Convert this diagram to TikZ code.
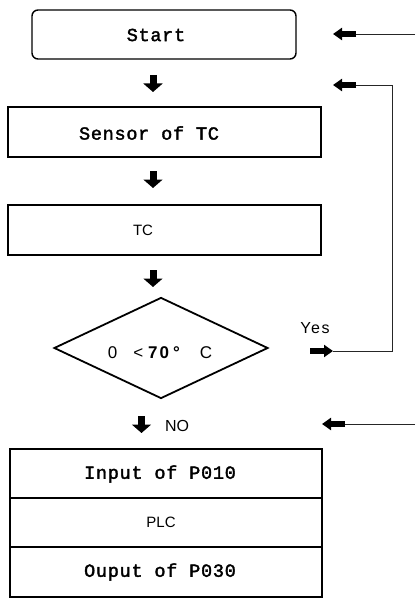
\documentclass[tikz,border=0pt]{standalone}
\usepackage{fontspec}
\setmainfont{Liberation Sans}
\newfontfamily\monofont[LetterSpace=4,FakeBold=2]{Liberation Mono}
\newfontfamily\widesans[LetterSpace=10]{Liberation Sans}
\usetikzlibrary{arrows.meta,shapes.geometric}
\begin{document}
\begin{tikzpicture}[x=1pt,y=-1pt,
  box/.style={draw,line width=1.4pt,inner sep=0pt,outer sep=0pt},
  montext/.style={font=\monofont\fontsize{18.5}{18.5}\selectfont,inner sep=0pt},
  sanstext/.style={font=\fontsize{15}{15}\selectfont,inner sep=0pt},
  widetext/.style={font=\widesans\fontsize{16}{16}\selectfont,inner sep=0pt},
  downarrow/.style={line width=7pt,-{Triangle[length=8.5pt,width=19pt]}},
  sidearrow/.style={line width=5.5pt,-{Triangle[length=9pt,width=12pt]}},
  thinline/.style={line width=0.8pt,black!85}
]
\useasboundingbox (0,0) rectangle (415,607);

% boxes
\node[box,rounded corners=6pt,minimum width=264pt,minimum height=49pt] (start) at (164,34.5) {};
\node[montext] (starttext) at (156,35) {Start};
\node[box,minimum width=313pt,minimum height=50pt] (sensor) at (164.5,132) {};
\node[montext] (sensortext) at (149,133) {Sensor of TC};
\node[box,minimum width=313pt,minimum height=50pt] (tc) at (164.5,230) {};
\node[sanstext] (tctext) at (143,230) {TC};
\node[draw,diamond,line width=1.8pt,minimum width=214pt,minimum height=101pt,inner sep=0pt] (cond) at (161,348) {};
\node[inner sep=0pt,font=\fontsize{17}{17}\selectfont] (condtext) at (160,353)
  {0\hspace{16pt}<\hspace{5pt}\textbf{7\hspace{2pt}0\hspace{4pt}°}\hspace{20pt}C};
\node[box,minimum width=312pt,minimum height=49pt] (in) at (166,473.5) {};
\node[box,minimum width=312pt,minimum height=49pt] (plc) at (166,522.5) {};
\node[box,minimum width=312pt,minimum height=50pt] (out) at (166,572) {};
\node[montext] (intext) at (160,474) {Input of P010};
\node[sanstext] (plctext) at (161,522) {PLC};
\node[montext] (outtext) at (160,572) {Ouput of P030};
\node[widetext] (yes) at (315,328) {Yes};
\node[font=\fontsize{16}{16}\selectfont,inner sep=0pt] (no) at (177,425.5) {NO};

% down block arrows
\coordinate (d1a) at (153,75);  \coordinate (d1b) at (153,92);
\coordinate (d2a) at (153,171); \coordinate (d2b) at (153,188);
\coordinate (d3a) at (153,270); \coordinate (d3b) at (153,287);
\coordinate (d4a) at (141.5,416); \coordinate (d4b) at (141.5,433);
\draw[downarrow] (d1a) -- (d1b);
\draw[downarrow] (d2a) -- (d2b);
\draw[downarrow] (d3a) -- (d3b);
\draw[downarrow] (d4a) -- (d4b);

% right-side feeds
\coordinate (r1) at (415,34); \coordinate (r1a) at (356,34); \coordinate (r1b) at (333,34);
\draw[thinline] (r1) -- (r1a);
\draw[sidearrow] (r1a) -- (r1b);

\coordinate (y0) at (310,351); \coordinate (y1) at (333,351);
\coordinate (l1) at (392,351); \coordinate (l2a) at (356,85); \coordinate (l2b) at (333,85);
\draw[sidearrow] (y0) -- (y1);
\draw[thinline] (y1) -- (l1) |- (l2a);
\draw[sidearrow] (l2a) -- (l2b);

\coordinate (r3) at (415,424); \coordinate (r3a) at (345,424); \coordinate (r3b) at (322,424);
\draw[thinline] (r3) -- (r3a);
\draw[sidearrow] (r3a) -- (r3b);
\end{tikzpicture}
\end{document}
